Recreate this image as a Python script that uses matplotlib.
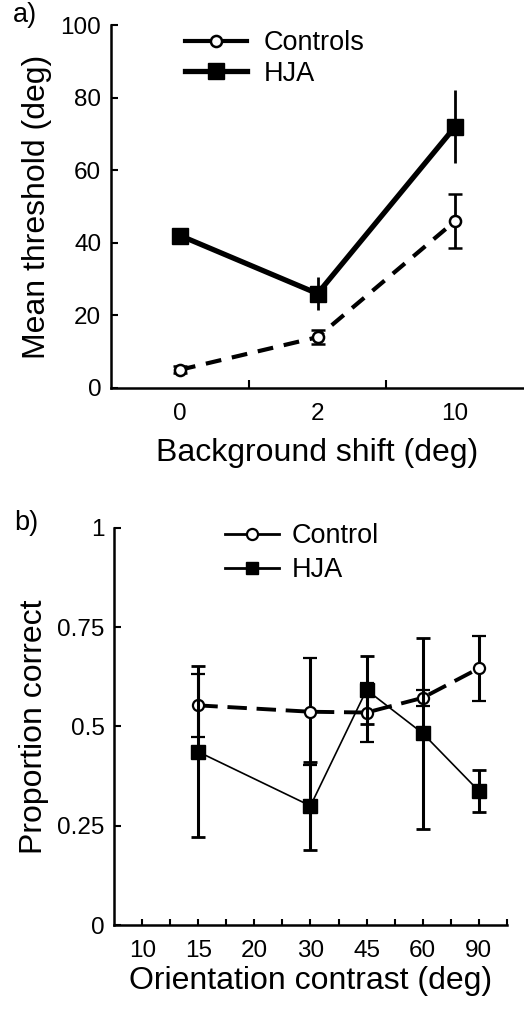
import matplotlib
matplotlib.use("Agg")
import matplotlib.pyplot as plt
from matplotlib.lines import Line2D

plt.rcParams['font.family'] = ['Liberation Sans', 'DejaVu Sans']

# panel a data
shift_labels = ['0', '2', '10']
controls_a = [5, 14, 46]
controls_a_err = [1.0, 2.0, 7.5]
hja_a = [42, 26, 72]
hja_a_err = [2.0, 4.5, 10.0]

# panel b data
contrast_labels = ['10', '15', '20', '30', '45', '60', '90']
control_pos = [1, 3, 4, 5, 6]
control_b = [0.553, 0.537, 0.535, 0.572, 0.646]
control_b_err = [0.08, 0.135, 0.075, 0.02, 0.082]
hja_pos = [1, 3, 4, 5, 6]
hja_b = [0.436, 0.30, 0.592, 0.483, 0.338]
hja_b_err = [0.215, 0.11, 0.085, 0.24, 0.053]

fig = plt.figure(figsize=(5.24, 10.21), dpi=100)

# ---- panel a ----
ax1 = fig.add_axes([0.212, 0.620, 0.788, 0.3555])
xa = list(range(len(shift_labels)))
ax1.errorbar(xa, controls_a, yerr=controls_a_err, color='black', lw=3,
             dashes=(3.8, 2.6), marker='o', ms=8, mfc='white', mec='black',
             mew=1.8, elinewidth=2, capsize=5, capthick=2, zorder=2)
ax1.errorbar(xa, hja_a, yerr=hja_a_err, color='black', lw=3.8,
             marker='s', ms=11, mfc='black', mec='black',
             elinewidth=2, capsize=0, zorder=3)
ax1.set_xlim(-0.5, 2.5)
ax1.set_ylim(0, 100)
ax1.set_xticks(xa)
ax1.set_xticklabels(shift_labels)
ax1.set_xticks([0.5, 1.5], minor=True)
ax1.tick_params(axis='x', which='major', length=0, labelsize=17.5, pad=11)
ax1.tick_params(axis='x', which='minor', direction='in', length=6, width=1.5)
ax1.set_yticks([0, 20, 40, 60, 80, 100])
ax1.tick_params(axis='y', direction='in', length=5, width=1.5,
                labelsize=17.5, pad=7)
for s in ['top', 'right']:
    ax1.spines[s].set_visible(False)
for s in ['left', 'bottom']:
    ax1.spines[s].set_linewidth(1.8)
ax1.set_xlabel('Background shift (deg)', fontsize=23, labelpad=9)
ax1.set_ylabel('Mean threshold (deg)', fontsize=23, labelpad=6)
h_a = [Line2D([], [], color='black', lw=3, marker='o', ms=8, mfc='white',
              mec='black', mew=1.8),
       Line2D([], [], color='black', lw=3.8, marker='s', ms=11, mfc='black')]
ax1.legend(h_a, ['Controls', 'HJA'], loc='upper left',
           bbox_to_anchor=(0.179, 0.985), borderaxespad=0, borderpad=0,
           frameon=False, fontsize=19.5,
           handlelength=2.3, handletextpad=0.6, labelspacing=0.15)
fig.text(0.025, 0.985, 'a)', fontsize=19.5, va='center')

# ---- panel b ----
ax2 = fig.add_axes([0.218, 0.094, 0.749, 0.389])
ax2.errorbar(control_pos, control_b, yerr=control_b_err, color='black',
             lw=2.8, dashes=(5, 2.5), marker='o', ms=8, mfc='white',
             mec='black', mew=1.6, elinewidth=2.2, capsize=5, capthick=2,
             zorder=2)
ax2.errorbar(hja_pos, hja_b, yerr=hja_b_err, color='black', lw=1.2,
             marker='s', ms=10, mfc='black', mec='black',
             elinewidth=2.2, capsize=5, capthick=2, zorder=3)
ax2.set_xlim(-0.5, 6.5)
ax2.set_ylim(0, 1)
ax2.set_xticks(range(len(contrast_labels)))
ax2.set_xticklabels(contrast_labels)
ax2.set_xticks([i + 0.5 for i in range(len(contrast_labels))], minor=True)
ax2.tick_params(axis='x', which='both', direction='in', length=4, width=1.5,
                labelsize=17.5, pad=11)
ax2.set_yticks([0, 0.25, 0.5, 0.75, 1])
ax2.set_yticklabels(['0', '0.25', '0.5', '0.75', '1'])
ax2.tick_params(axis='y', direction='in', length=5, width=1.5,
                labelsize=17.5, pad=7)
for s in ['top', 'right']:
    ax2.spines[s].set_visible(False)
for s in ['left', 'bottom']:
    ax2.spines[s].set_linewidth(1.8)
ax2.set_xlabel('Orientation contrast (deg)', fontsize=23, labelpad=3)
ax2.set_ylabel('Proportion correct', fontsize=23, labelpad=6)
h_b = [Line2D([], [], color='black', lw=2, marker='o', ms=8, mfc='white',
              mec='black', mew=1.6),
       Line2D([], [], color='black', lw=2, marker='s', ms=9, mfc='black')]
ax2.legend(h_b, ['Control', 'HJA'], loc='upper left',
           bbox_to_anchor=(0.282, 1.012), borderaxespad=0, borderpad=0,
           frameon=False, fontsize=19.5,
           handlelength=2.0, handletextpad=0.45, labelspacing=0.3)
fig.text(0.028, 0.488, 'b)', fontsize=19.5, va='center')

fig.savefig('out.png', dpi=100)
